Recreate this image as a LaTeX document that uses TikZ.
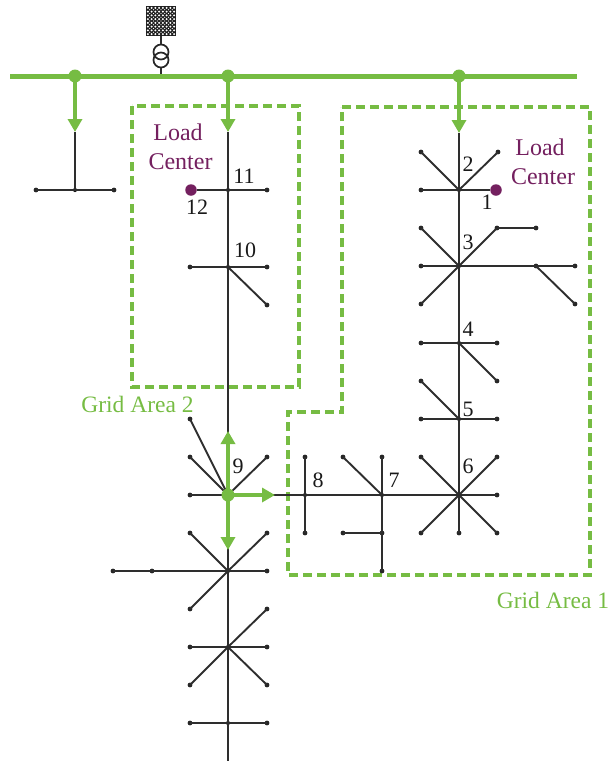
\documentclass[tikz,border=0pt]{standalone}
\usepackage{fontspec}
\setmainfont{Liberation Serif}
\usetikzlibrary{arrows.meta}
\definecolor{gridgreen}{HTML}{76BC43}
\definecolor{loadpurple}{HTML}{74205F}
\tikzset{
  x=1pt,y=-1pt,
  leaf/.style={circle,fill=black!85,inner sep=0pt,minimum size=4.8pt},
  hub/.style={circle,fill=black!90,inner sep=0pt,minimum size=4.2pt},
  wire/.style={draw=black!82,line width=1.9pt},
  bus/.style={draw=gridgreen,line width=5pt},
  flow/.style={draw=gridgreen,line width=4pt,-{Triangle[length=13pt,width=14pt]}},
  greendot/.style={circle,fill=gridgreen,inner sep=0pt,minimum size=13pt},
  loaddot/.style={circle,fill=loadpurple,inner sep=0pt,minimum size=11.5pt},
  area/.style={draw=gridgreen,line width=3.2pt,dash pattern=on 9pt off 5pt},
  num/.style={anchor=base,font=\fontsize{22}{22}\selectfont,text=black!90,inner sep=0pt},
  loadtxt/.style={anchor=base,font=\fontsize{24}{24}\selectfont,text=loadpurple,inner sep=0pt},
  areatxt/.style={anchor=base,font=\fontsize{23.5}{24}\selectfont,text=gridgreen,inner sep=0pt},
  xfmr/.style={circle,draw=black!85,line width=1.7pt,fill=none,inner sep=0pt,minimum size=15pt},
  source/.style={rectangle,fill=black!88,inner sep=0pt,minimum size=30pt},
}
\begin{document}
\begin{tikzpicture}
\useasboundingbox (0,0) rectangle (611,761);
% --- grid areas
\draw[area] (132,106) rectangle (299,387);
\draw[area] (342,107) -- (590,107) -- (590,575) -- (288,575) -- (288,412) -- (342,412) -- cycle;
% --- hubs and leaves
\foreach \n/\x/\y in {
 la/75/190, ma/228/190, mb/228/267, mc/228/495, md/228/571, me/228/647, mf/228/723,
 ra/459/190, rb/459/266, rc/459/343, rd/459/419, re/459/495, h8/305/495, h7/382/495}
  \node[hub] (\n) at (\x,\y) {};
\foreach \n/\x/\y in {
 l1/36/190, l2/114/190,
 a1/267/190,
 b1/190/267, b2/267/267, b3/267/305,
 c1/190/419, c2/190/457, c3/267/457, c4/190/495,
 d1/190/533, d2/267/533, d3/267/571, d4/190/609, d5/152/571, d6/113/571,
 e1/267/609, e2/190/647, e3/267/647, e4/190/685, e5/267/685,
 f1/190/723, f2/267/723,
 t1/421/152, t2/498/152, t3/421/190,
 u1/421/228, u2/497/228, u3/536/228, u4/421/266, u5/421/304, u7/536/266, u8/575/266, u9/575/304,
 v1/421/343, v2/497/343, v3/497/381,
 w1/421/381, w2/421/419, w3/497/419,
 x1/421/457, x2/497/457, x3/497/495, x4/421/533, x5/459/533, x6/497/533,
 g1/305/457, g2/305/533,
 s1/343/457, s2/382/457, s3/382/533, s4/343/533, s5/382/571}
  \node[leaf] (\n) at (\x,\y) {};
\coordinate (busW) at (10,76);
\coordinate (busE) at (577,76);
\coordinate (endS) at (228,761);
\coordinate (busT) at (161,76);
% --- arrow ends on the feeders
\coordinate (tipL) at (75,132);
\coordinate (tipM) at (228,132);
\coordinate (tipR) at (459,133);
\coordinate (tipU) at (228,431);
\coordinate (tipE) at (275,495);
\coordinate (tipD) at (228,550);
% --- black feeders
\foreach \a/\b in {
 tipL/la, la/l1, la/l2,
 tipM/ma, ma/mb, mb/mc, mc/md, md/me, me/mf, mf/endS,
 ma/a1, mb/b1, mb/b2, mb/b3,
 mc/c1, mc/c2, mc/c3, mc/c4, mc/h8, h8/h7, h7/re,
 md/d1, md/d2, md/d3, md/d4, md/d5, d5/d6,
 me/e1, me/e2, me/e3, me/e4, me/e5,
 mf/f1, mf/f2,
 tipR/ra, ra/rb, rb/rc, rc/rd, rd/re, re/x5,
 ra/t1, ra/t2, ra/t3,
 rb/u1, rb/u2, u2/u3, rb/u4, rb/u5, rb/u7, u7/u8, u7/u9,
 rc/v1, rc/v2, rc/v3,
 rd/w1, rd/w2, rd/w3,
 re/x1, re/x2, re/x3, re/x4, re/x6,
 h8/g1, h8/g2,
 h7/s1, h7/s2, h7/s5, s3/s4}
  \draw[wire] (\a.center) -- (\b.center);
% --- source and transformer
\node[source] (src) at (161,21) {};
\foreach \i in {0,...,7} \foreach \j in {0,...,7}
  \fill[white] (146+1.875+3.75*\i,6+1.875+3.75*\j) circle (1.05pt);
\foreach \i in {0,...,6} \foreach \j in {0,...,6}
  \fill[white] (146+3.75+3.75*\i,6+3.75+3.75*\j) circle (0.6pt);
\node[xfmr] (tr1) at (161,52) {};
\node[xfmr] (tr2) at (161,60) {};
\draw[wire] (src.south) -- (tr1.north);
\draw[wire] (tr2.south) -- (busT);
% --- green bus and flows
\draw[bus] (busW) -- (busE);
\node[greendot] (n1) at (75,76) {};
\node[greendot] (n2) at (228,76) {};
\node[greendot] (n3) at (459,76) {};
\node[greendot] (n4) at (228,495) {};
\draw[flow] (n1.center) -- (tipL);
\draw[flow] (n2.center) -- (tipM);
\draw[flow] (n3.center) -- (tipR);
\draw[flow] (n4.center) -- (tipU);
\draw[flow] (n4.center) -- (tipE);
\draw[flow] (n4.center) -- (tipD);
% --- load points
\node[loaddot] (lc1) at (496,190) {};
\node[loaddot] (lc2) at (191,190) {};
\draw[wire] (ra.center) -- (lc1);
\draw[wire] (ma.center) -- (lc2);
% --- labels
\node[loadtxt] (tl1) at (178,140) {Load};
\node[loadtxt] (tl2) at (180.5,169) {Center};
\node[loadtxt] (tr3) at (540,155) {Load};
\node[loadtxt] (tr4) at (543,184) {Center};
\node[areatxt] (ga2) at (137.5,412) {Grid Area 2};
\node[areatxt] (ga1) at (553,608) {Grid Area 1};
\node[num] (k1) at (487,209) {1};
\node[num] (k2) at (468,171) {2};
\node[num] (k3) at (468,249) {3};
\node[num] (k4) at (468,336) {4};
\node[num] (k5) at (468,416) {5};
\node[num] (k6) at (468,473) {6};
\node[num] (k7) at (394,487) {7};
\node[num] (k8) at (318,487) {8};
\node[num] (k9) at (238,473) {9};
\node[num] (k10) at (245,257) {10};
\node[num] (k11) at (244,183) {11};
\node[num] (k12) at (197,214) {12};
\end{tikzpicture}
\end{document}
